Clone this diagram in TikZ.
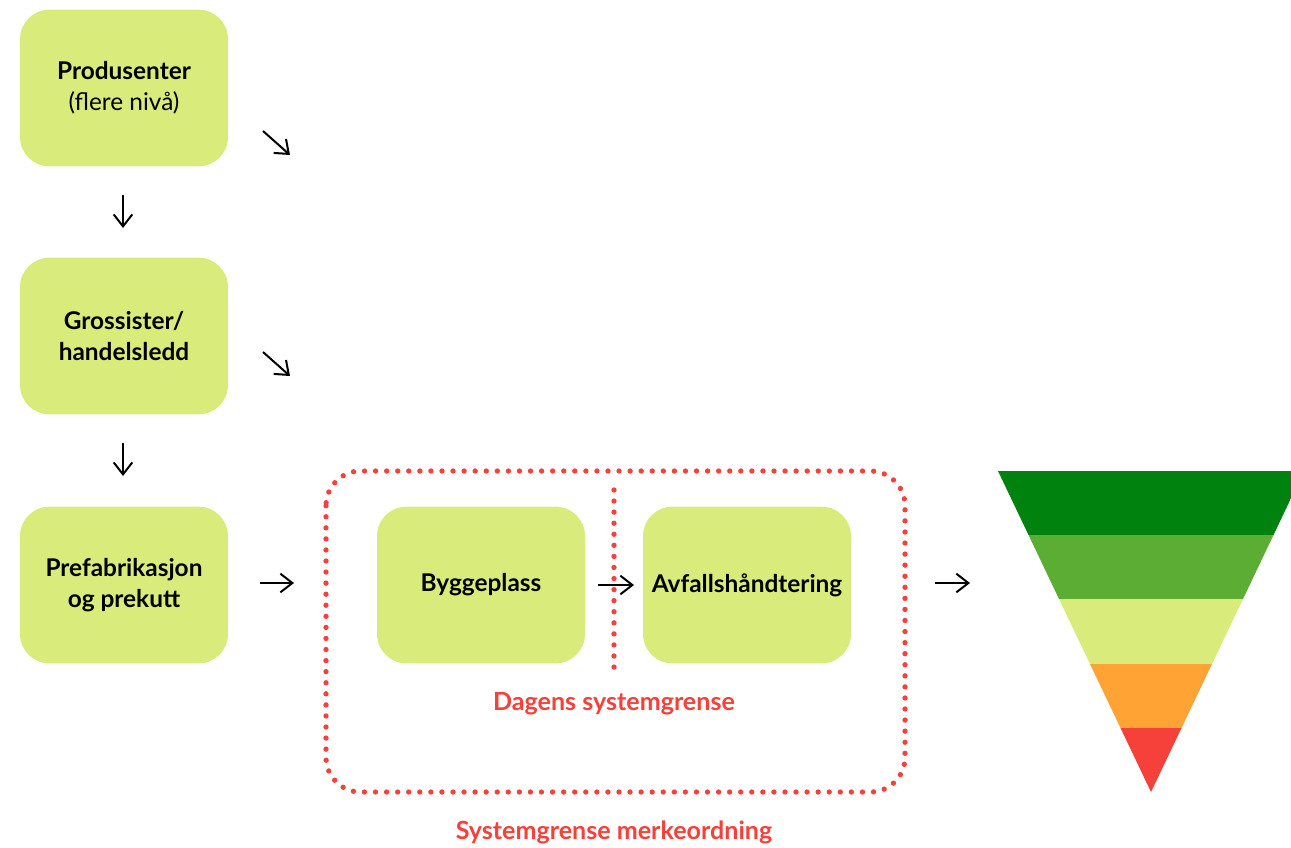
\documentclass[tikz,border=0pt]{standalone}
\usepackage{fontspec}
\setmainfont{Lato}
\usetikzlibrary{arrows.meta}

\begin{document}
\begin{tikzpicture}[x=0.75pt,y=-0.75pt]
% Colors define
\definecolor{myGreen}{HTML}{D9EB7A}
\definecolor{myDarkGreen}{HTML}{00820E}
\definecolor{myMidGreen}{HTML}{5CAD33}
\definecolor{myOrange}{HTML}{FFA334}
\definecolor{myRed}{HTML}{F5413A}

\tikzset{
  box/.style={fill=myGreen, rounded corners=22pt, minimum width=156pt, minimum height=117.5pt,
    align=center, font=\bfseries\fontsize{18.3}{23.5}\selectfont},
  arr/.style={-{Straight Barb[length=9pt,width=14pt]}, line width=1.5pt},
  border/.style={myRed, line width=4pt, line cap=round, dash pattern=on 0pt off 8.3pt},
  redlabel/.style={myRed, font=\bfseries\fontsize{18.8}{22}\selectfont}
}

\useasboundingbox (0,0) rectangle (1291,847);

% Boxes
\node[box] (prod) at (124,88) {Produsenter\\\mdseries(flere nivå)};
\node[box] (gross) at (124,336) {Grossister/\\handelsledd};
\node[box] (prefab) at (124,585) {Prefabrikasjon\\og prekutt};
\node[box] (bygg) at (481,585) {Byggeplass};
\node[box] (avfall) at (747,585) {Avfallshåndtering};

% System borders
\draw[border, rounded corners=26pt] (326,471) rectangle (905,792);
\coordinate (cutTop) at (614,490);
\coordinate (cutBot) at (614,678);
\draw[border] (cutTop) -- (cutBot);
\node[redlabel] (dagens) at (614,704) {Dagens systemgrense};
\node[redlabel] (merke) at (614,832) {Systemgrense merkeordning};

% Arrow ends
\coordinate (d1a) at (123,195);  \coordinate (d1b) at (123,228);
\coordinate (d2a) at (123,443);  \coordinate (d2b) at (123,476);
\coordinate (s1a) at (263,131);  \coordinate (s1b) at (290,155);
\coordinate (s2a) at (263,352);  \coordinate (s2b) at (290,376);
\coordinate (r1a) at (260,583);  \coordinate (r1b) at (294,583);
\coordinate (r2a) at (598,585);  \coordinate (r2b) at (634,585);
\coordinate (r3a) at (935,583);  \coordinate (r3b) at (970,583);

% Arrows
\foreach \n in {d1,d2,s1,s2,r1,r2,r3}
    \draw[arr] (\n a) -- (\n b);

% Waste pyramid
\begin{scope}
\clip (998,471) -- (1304,471) -- (1151,792) -- cycle;
\foreach \col [count=\i] in {myDarkGreen,myMidGreen,myGreen,myOrange,myRed}
    \fill[\col] (990,{471+(\i-1)*64.2}) rectangle (1310,{471+\i*64.2});
\end{scope}
\end{tikzpicture}
\end{document}
